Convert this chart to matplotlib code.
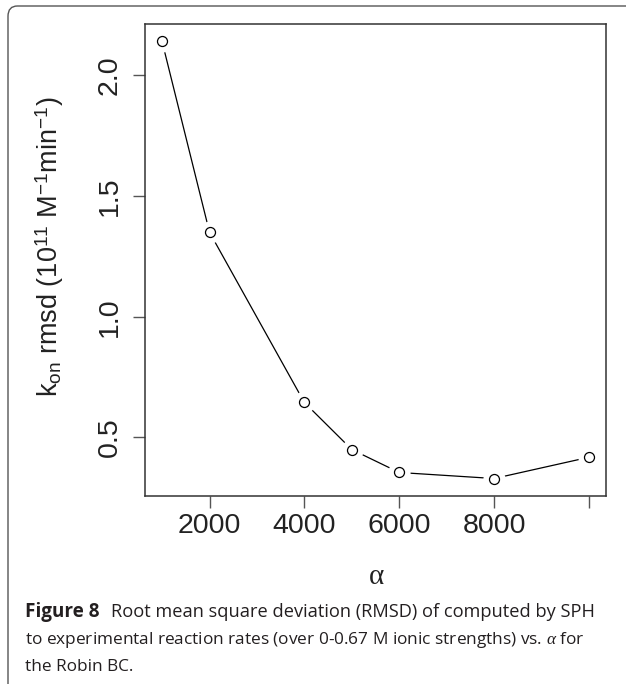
import matplotlib
matplotlib.use('Agg')
import matplotlib.pyplot as plt
from matplotlib.patches import FancyBboxPatch

# data
alpha = [1000, 2000, 4000, 5000, 6000, 8000, 10000]
kon_rmsd = [2.14, 1.35, 0.645, 0.45, 0.355, 0.33, 0.418]

xticks = [2000, 4000, 6000, 8000, 10000]
xticklabels = ['2000', '4000', '6000', '8000', '']
yticks = [0.5, 1.0, 1.5, 2.0]
yticklabels = ['0.5', '1.0', '1.5', '2.0']

plt.rcParams['font.family'] = ['Liberation Sans', 'DejaVu Sans']
plt.rcParams['mathtext.fontset'] = 'custom'
plt.rcParams['mathtext.rm'] = 'Liberation Sans'
plt.rcParams['mathtext.it'] = 'Liberation Serif:italic'

W, H = 626, 684
fig = plt.figure(figsize=(W / 100, H / 100), dpi=100)
ax = fig.add_axes([145 / W, 1 - 496 / H, 461 / W, 472 / H])

# R style type="b": line with gaps around the open circles
ax.plot(alpha, kon_rmsd, color='black', lw=0.9, zorder=1)
ax.plot(alpha, kon_rmsd, ls='none', marker='o', ms=16, mfc='white', mec='none', zorder=2)
ax.plot(alpha, kon_rmsd, ls='none', marker='o', ms=7.2, mfc='white', mec='black', mew=0.9, zorder=3)

span = max(alpha) - min(alpha)
ax.set_xlim(min(alpha) - 0.04 * span, max(alpha) + 0.04 * span)
yspan = max(kon_rmsd) - min(kon_rmsd)
ax.set_ylim(min(kon_rmsd) - 0.04 * yspan, max(kon_rmsd) + 0.04 * yspan)

ax.set_xticks(xticks)
ax.set_xticklabels(xticklabels)
ax.set_yticks(yticks)
ax.set_yticklabels(yticklabels, rotation=90, va='center')

ax.tick_params(axis='both', length=8.6, width=1.0, color='#555555',
               labelsize=20.5, labelcolor='#222222')
ax.tick_params(axis='x', pad=3.5)
ax.tick_params(axis='y', pad=7.5)
for s in ax.spines.values():
    s.set_linewidth(1.1)
    s.set_color('#333333')

fig.text(50 / W, 1 - 247 / H,
         r'k$_{\mathregular{on}}$ rmsd (10$^{\mathregular{11}}$ M$^{\mathregular{-1}}$min$^{\mathregular{-1}}$)',
         rotation=90, ha='center', va='center', fontsize=19.5, color='#222222')
fig.text(376 / W, 1 - 577 / H, 'α', family='Liberation Serif',
         ha='center', va='center', fontsize=21, color='#222222')

# caption
cap = dict(fontsize=12.4, family=['Open Sans', 'DejaVu Sans'], color='#231f20', va='baseline')
fig.text(25 / W, 1 - 617 / H, 'Figure 8', fontweight='bold',
         **{**cap, 'fontsize': 13.6})
fig.text(111 / W, 1 - 617 / H,
         'Root mean square deviation (RMSD) of computed by SPH', **{**cap, 'fontsize': 13.15})
fig.text(25 / W, 1 - 644 / H,
         r'to experimental reaction rates (over 0-0.67 M ionic strengths) vs. $\alpha$ for', **cap)
fig.text(25 / W, 1 - 671 / H, 'the Robin BC.', **cap)

# rounded frame around the figure panel
frame = FancyBboxPatch((8 / W, -0.1), 1.2, 1.1 - 6 / H,
                       boxstyle='round,pad=0,rounding_size=0.015',
                       transform=fig.transFigure, fill=False,
                       edgecolor='#555555', lw=1.0, clip_on=False)
fig.patches.append(frame)

fig.savefig('out.png', dpi=100)
